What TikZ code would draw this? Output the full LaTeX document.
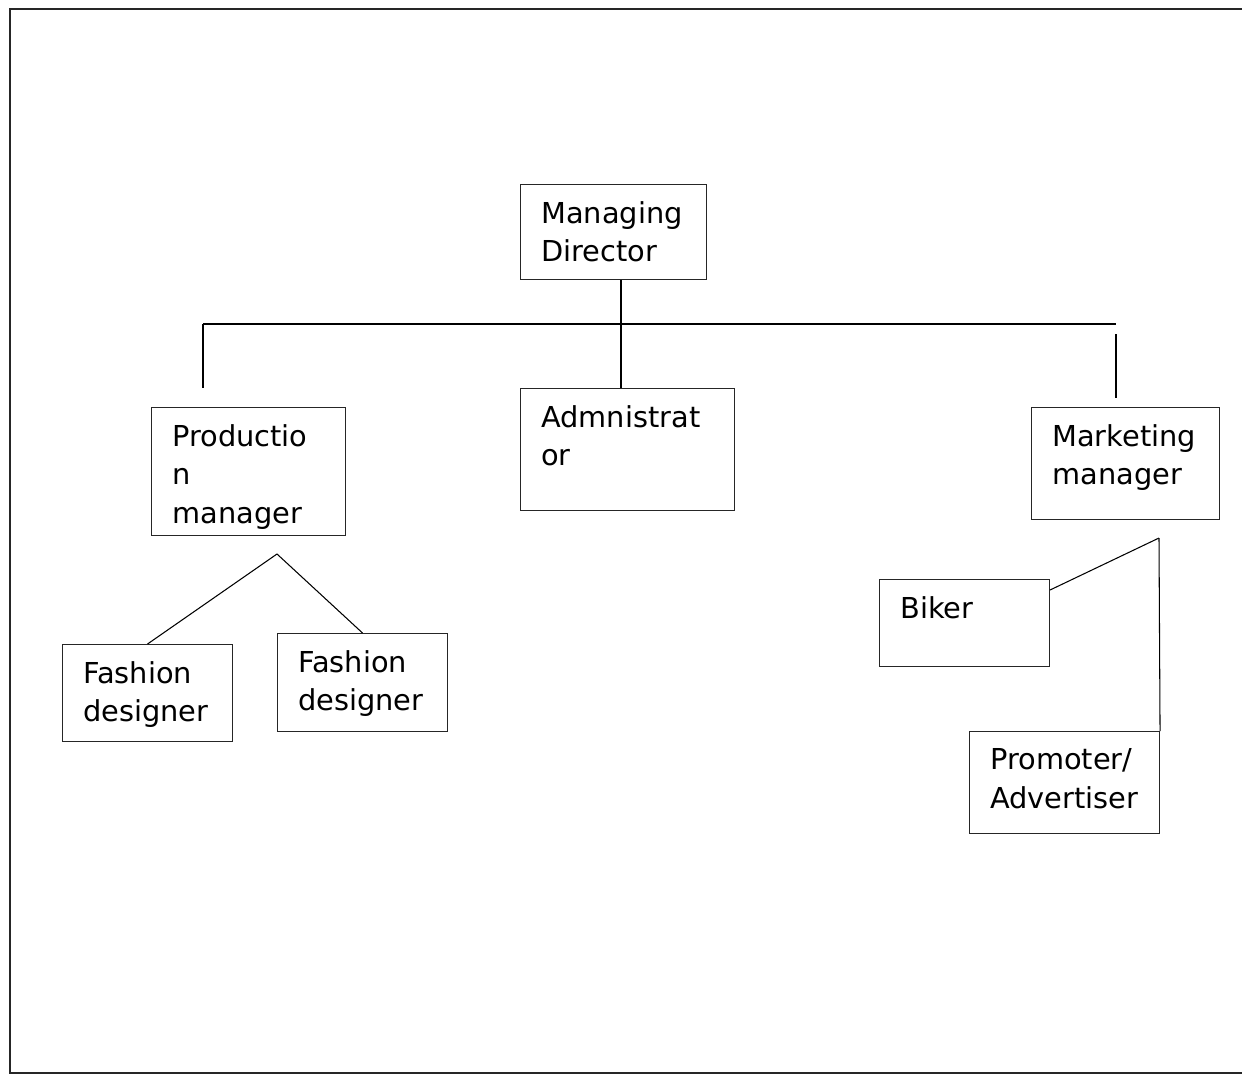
\documentclass[tikz,border=0pt]{standalone}
\usepackage{fontspec}
\setmainfont{DejaVu Sans}
\begin{document}
\begin{tikzpicture}[x=1cm, y=1cm,
  box/.style={draw=black!85, line width=0.6pt, anchor=north west, inner sep=0pt},
  lbl/.style={anchor=north west, inner sep=0pt, align=left, font=\fontsize{16.4}{22}\selectfont},
  wire/.style={line width=0.6pt}]
\useasboundingbox (0,0) rectangle (24.84,-21.56);
\draw[line width=1.1pt, black!85] (24.84,-0.18) -- (0.2,-0.18) -- (0.2,-21.46) -- (24.84,-21.46);
\node[box, minimum width=3.72cm, minimum height=1.90cm] (md) at (10.40,-3.68){};
\node[box, minimum width=3.88cm, minimum height=2.56cm] (prod) at (3.02,-8.14){};
\node[box, minimum width=4.28cm, minimum height=2.44cm] (admin) at (10.40,-7.76){};
\node[box, minimum width=3.76cm, minimum height=2.24cm] (mkt) at (20.62,-8.14){};
\node[box, minimum width=3.40cm, minimum height=1.94cm] (fd1) at (1.24,-12.88){};
\node[box, minimum width=3.40cm, minimum height=1.96cm] (fd2) at (5.54,-12.66){};
\node[box, minimum width=3.40cm, minimum height=1.74cm] (biker) at (17.58,-11.58){};
\node[box, minimum width=3.80cm, minimum height=2.04cm] (promo) at (19.38,-14.62){};
\node[lbl] (mdtxt) at ([shift={(0.42,-0.34)}]md.north west){Managing\\Director};
\begin{scope}
\clip (prod.south west) rectangle (prod.north east);
\node[lbl] (prodtxt) at ([shift={(0.42,-0.34)}]prod.north west){Productio\\n\\manager};
\end{scope}
\node[lbl] (admintxt) at ([shift={(0.42,-0.34)}]admin.north west){Admnistrat\\or};
\node[lbl] (mkttxt) at ([shift={(0.42,-0.34)}]mkt.north west){Marketing\\manager};
\node[lbl] (fd1txt) at ([shift={(0.42,-0.34)}]fd1.north west){Fashion\\designer};
\node[lbl] (fd2txt) at ([shift={(0.42,-0.34)}]fd2.north west){Fashion\\designer};
\node[lbl] (bikertxt) at ([shift={(0.42,-0.34)}]biker.north west){Biker};
\node[lbl] (promotxt) at ([shift={(0.42,-0.34)}]promo.north west){Promoter/\\Advertiser};
\coordinate (trunk) at (12.42,-6.48);
\coordinate (hl) at (4.06,-6.48);
\coordinate (hr) at (22.32,-6.48);
\coordinate (lend) at (4.06,-7.76);
\coordinate (rtop) at (22.32,-6.68);
\coordinate (rend) at (22.32,-7.96);
\coordinate (pfork) at (5.54,-11.08);
\coordinate (mfork) at (23.18,-10.76);
\draw[wire](md.south -| trunk) -- (admin.north -| trunk);
\draw[wire](hl) -- (hr);
\draw[wire](hl) -- (lend);
\draw[wire](rtop) -- (rend);
\draw[wire](pfork) -- (fd1.north);
\draw[wire](pfork) -- (fd2.north);
\draw[wire](mfork) -- ([yshift=-0.22cm]biker.north east);
\draw[wire](mfork) -- (promo.north east);
\end{tikzpicture}
\end{document}
